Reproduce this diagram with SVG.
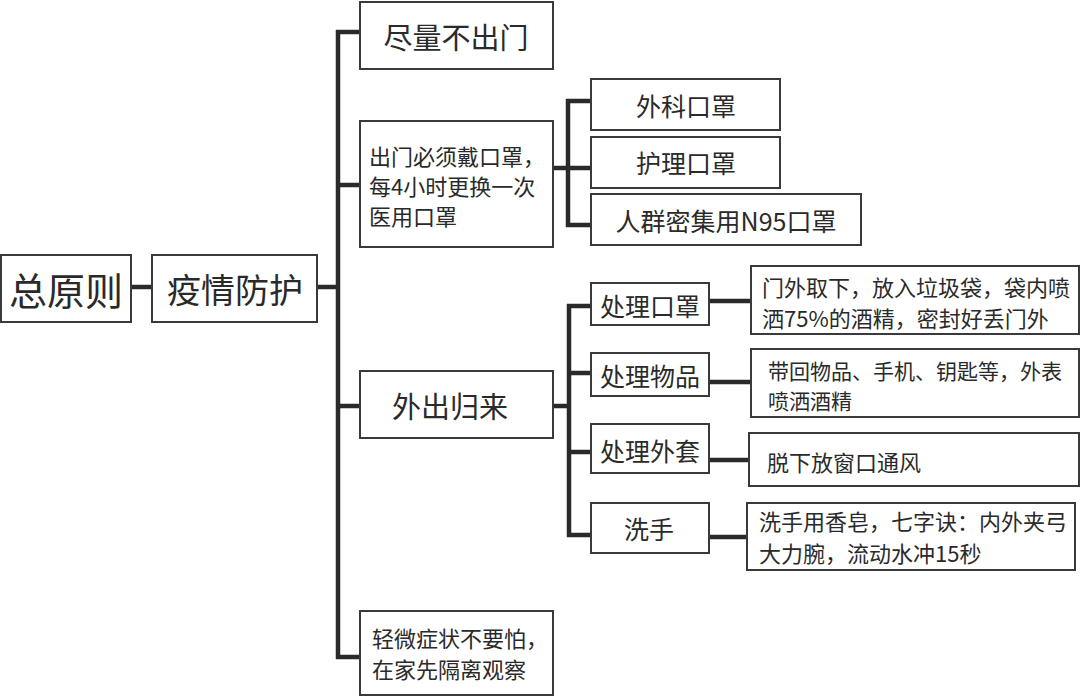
<svg xmlns="http://www.w3.org/2000/svg" width="1080" height="697" viewBox="0 0 1080 697">
<style>
.box{fill:#fff;stroke:#3a3a3a;stroke-width:2}
.t{font-family:"Noto Sans CJK SC","Noto Sans",sans-serif;fill:#2a2a2a;dominant-baseline:central}
.c{text-anchor:middle}
.s{font-size:22px}
.m{font-size:25px}
.conn path{fill:none;stroke:#2a2a2a;stroke-width:4.5;stroke-linecap:butt}
</style>
<rect width="1080" height="697" fill="#fff"/>
<g class="conn">
<path d="M131 287H152"/>
<path d="M317 287H338"/>
<path d="M338 30V659"/>
<path d="M336 32H360M336 185H360M336 406H360M336 657H360"/>
<path d="M553 168H568"/>
<path d="M568 99V227"/>
<path d="M566 101H591M566 168H591M566 225H591"/>
<path d="M553 406H569"/>
<path d="M569 304V537"/>
<path d="M567 306H591M567 373H591M567 452H591M567 535H591"/>
<path d="M709 301H751M709 382H751M709 460H749M709 537H747"/>
</g>
<g id="n-zongyuanze"><rect class="box" x="1" y="255" width="130" height="67"/><text class="t c" x="66" y="288" font-size="38">总原则</text></g>
<g id="n-yiqing"><rect class="box" x="152" y="255" width="165" height="67"/><text class="t c" x="235" y="288" font-size="34">疫情防护</text></g>
<g id="n-buchumen"><rect class="box" x="360" y="2" width="193" height="67"/><text class="t c" x="456" y="36" font-size="29">尽量不出门</text></g>
<g id="n-kouzhao"><rect class="box" x="360" y="121" width="193" height="126"/>
<text class="t s" x="369" y="155">出门必须戴口罩，</text>
<text class="t s" x="369" y="185">每4小时更换一次</text>
<text class="t s" x="369" y="215">医用口罩</text></g>
<g id="n-waichu"><rect class="box" x="360" y="371" width="193" height="67"/><text class="t c" x="450" y="405" font-size="29">外出归来</text></g>
<g id="n-qingwei"><rect class="box" x="360" y="611" width="193" height="84"/>
<text class="t s" x="372" y="637">轻微症状不要怕，</text>
<text class="t s" x="372" y="668">在家先隔离观察</text></g>
<g id="n-waike"><rect class="box" x="591" y="79" width="189" height="51"/><text class="t c m" x="686" y="105">外科口罩</text></g>
<g id="n-huli"><rect class="box" x="591" y="137" width="189" height="51"/><text class="t c m" x="686" y="162">护理口罩</text></g>
<g id="n-n95"><rect class="box" x="591" y="194" width="270" height="51"/><text class="t c m" x="726" y="220">人群密集用N95口罩</text></g>
<g id="n-chulikouzhao"><rect class="box" x="591" y="283" width="118" height="42"/><text class="t c m" x="650" y="305">处理口罩</text></g>
<g id="n-chuliwupin"><rect class="box" x="591" y="353" width="118" height="43"/><text class="t c m" x="650" y="375">处理物品</text></g>
<g id="n-chuliwaitao"><rect class="box" x="591" y="424" width="118" height="49"/><text class="t c m" x="650" y="450">处理外套</text></g>
<g id="n-xishou"><rect class="box" x="591" y="503" width="118" height="50"/><text class="t c m" x="649" y="528">洗手</text></g>
<g id="n-menwai"><rect class="box" x="751" y="266" width="328" height="68"/>
<text class="t s" x="762" y="286">门外取下，放入垃圾袋，袋内喷</text>
<text class="t s" x="762" y="317">洒75%的酒精，密封好丢门外</text></g>
<g id="n-daihui"><rect class="box" x="751" y="349" width="328" height="68"/>
<text class="t" x="768" y="370" font-size="21">带回物品、手机、钥匙等，外表</text>
<text class="t" x="768" y="400" font-size="21">喷洒酒精</text></g>
<g id="n-tuoxia"><rect class="box" x="749" y="433" width="330" height="53"/>
<text class="t s" x="767" y="461">脱下放窗口通风</text></g>
<g id="n-xishouyong"><rect class="box" x="747" y="503" width="328" height="67"/>
<text class="t s" x="759" y="520">洗手用香皂，七字诀：内外夹弓</text>
<text class="t s" x="759" y="552">大力腕，流动水冲15秒</text></g>
</svg>
